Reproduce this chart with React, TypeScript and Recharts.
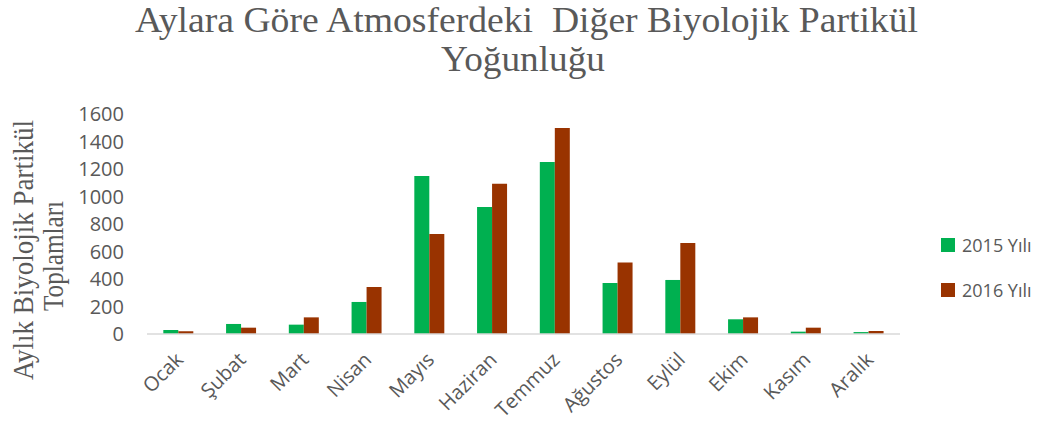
import React from 'react';
import { Bar, BarChart, Legend, XAxis, YAxis } from 'recharts';

const months = ['Ocak', 'Şubat', 'Mart', 'Nisan', 'Mayıs', 'Haziran', 'Temmuz', 'Ağustos', 'Eylül', 'Ekim', 'Kasım', 'Aralık'];
const values2015 = [29, 73, 68, 233, 1149, 924, 1251, 371, 393, 107, 17, 14];
const values2016 = [20, 46, 121, 342, 727, 1093, 1498, 520, 662, 121, 46, 22];
const yTicks = [0, 200, 400, 600, 800, 1000, 1200, 1400, 1600];
const seriesNames = ['2015 Yılı', '2016 Yılı'];

const GREEN = '#00B050';
const BROWN = '#993300';
const TEXT = '#595959';

const data = months.map((m, i) => ({ month: m, y2015: values2015[i], y2016: values2016[i] }));

const MonthTick = (props: any) => {
  const { x, y, payload } = props;
  const tx = x + 6;
  const ty = y + 27;
  return (
    <text
      x={tx}
      y={ty}
      textAnchor="end"
      transform={`rotate(-45 ${tx} ${ty})`}
      fill={TEXT}
      fontSize={20}
      fontFamily="Open Sans"
    >
      {payload.value}
    </text>
  );
};

const LegendBox = () => (
  <div style={{ fontFamily: 'Open Sans', fontSize: 18, color: TEXT }}>
    {[GREEN, BROWN].map((c, i) => (
      <div key={i} style={{ display: 'flex', alignItems: 'center', height: 45 }}>
        <span style={{ width: 14, height: 14, background: c, display: 'inline-block', marginRight: 7 }} />
        <span>{seriesNames[i]}</span>
      </div>
    ))}
  </div>
);

export default function App() {
  return (
    <div style={{ position: 'absolute', left: 0, top: 0, width: 1053, height: 428, background: '#fff' }}>
      <BarChart
        width={1053}
        height={428}
        data={data}
        margin={{ top: 114, right: 153, bottom: 0, left: 0 }}
        barGap={0}
        barCategoryGap="26%"
      >
        <XAxis
          dataKey="month"
          interval={0}
          height={94}
          tickLine={false}
          tickSize={0}
          tickMargin={0}
          axisLine={{ stroke: '#D9D9D9', strokeWidth: 1.5 }}
          tick={<MonthTick />}
        />
        <YAxis
          domain={[0, 1600]}
          ticks={yTicks}
          interval={0}
          width={147}
          tickLine={false}
          axisLine={false}
          tickSize={0}
          tickMargin={23}
          tick={{ fill: TEXT, fontSize: 20, fontFamily: 'Open Sans' }}
        />
        <Legend
          layout="vertical"
          align="center"
          verticalAlign="middle"
          content={<LegendBox />}
          wrapperStyle={{ position: 'absolute', left: 941, top: 222, width: 110 }}
        />
        <Bar dataKey="y2015" name={seriesNames[0]} fill={GREEN} isAnimationActive={false} />
        <Bar dataKey="y2016" name={seriesNames[1]} fill={BROWN} isAnimationActive={false} />
      </BarChart>
      <svg
        width={1053}
        height={428}
        style={{ position: 'absolute', left: 0, top: 0, pointerEvents: 'none' }}
      >
        <g fill={TEXT} fontFamily="Liberation Serif">
          <text x={526.5} y={32} fontSize={35} textAnchor="middle" textLength={783} lengthAdjust="spacingAndGlyphs">
            {'Aylara Göre Atmosferdeki\u00A0 Diğer Biyolojik Partikül'}
          </text>
          <text x={523} y={71} fontSize={35} textAnchor="middle" textLength={164} lengthAdjust="spacingAndGlyphs">
            Yoğunluğu
          </text>
          <text
            x={33}
            y={250}
            fontSize={29}
            textAnchor="middle"
            transform="rotate(-90 33 250)"
            textLength={260}
            lengthAdjust="spacingAndGlyphs"
          >
            Aylık Biyolojik Partikül
          </text>
          <text
            x={63}
            y={256}
            fontSize={29}
            textAnchor="middle"
            transform="rotate(-90 63 256)"
            textLength={110}
            lengthAdjust="spacingAndGlyphs"
          >
            Toplamları
          </text>
        </g>
      </svg>
    </div>
  );
}
